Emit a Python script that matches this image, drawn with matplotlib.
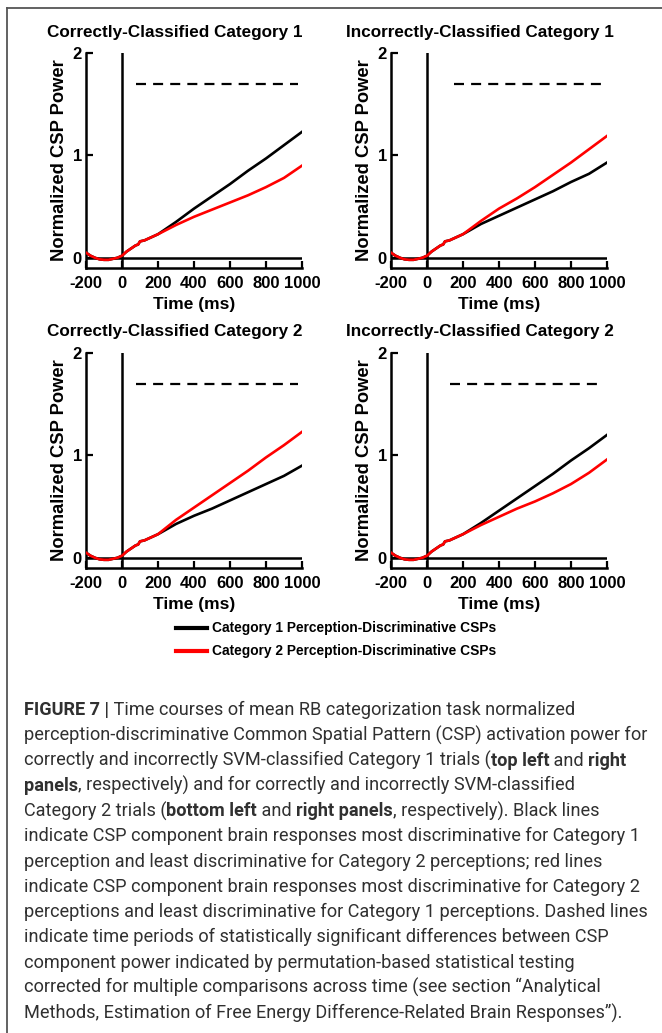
import matplotlib
matplotlib.use("Agg")
import matplotlib.pyplot as plt
from matplotlib.lines import Line2D
import numpy as np

# ---------------- data ----------------
time_ms = [-200, -175, -150, -125, -100, -75, -50, -25, 0, 25, 50, 75, 90, 100, 125, 150, 200,
           300, 400, 500, 600, 700, 800, 900, 1000]

panel_titles = ["Correctly-Classified Category 1", "Incorrectly-Classified Category 1",
                "Correctly-Classified Category 2", "Incorrectly-Classified Category 2"]

base = [0.05, 0.02, 0.00, -0.015, -0.02, -0.02, -0.01, 0.00, 0.02, 0.06, 0.09, 0.12, 0.13, 0.16, 0.17, 0.19, 0.23]

# Category 1 perception-discriminative CSPs (black)
cat1_correct1   = base + [0.35, 0.48, 0.60, 0.72, 0.85, 0.97, 1.10, 1.23]
cat1_incorrect1 = base + [0.33, 0.41, 0.49, 0.57, 0.65, 0.74, 0.82, 0.93]
cat1_correct2   = base + [0.33, 0.41, 0.48, 0.56, 0.64, 0.72, 0.80, 0.90]
cat1_incorrect2 = base + [0.34, 0.46, 0.58, 0.70, 0.82, 0.95, 1.07, 1.20]

# Category 2 perception-discriminative CSPs (red)
cat2_correct1   = base + [0.32, 0.40, 0.47, 0.54, 0.61, 0.69, 0.78, 0.90]
cat2_incorrect1 = base + [0.36, 0.48, 0.58, 0.69, 0.81, 0.93, 1.06, 1.19]
cat2_correct2   = base + [0.37, 0.49, 0.61, 0.73, 0.85, 0.98, 1.10, 1.23]
cat2_incorrect2 = base + [0.32, 0.40, 0.48, 0.55, 0.63, 0.72, 0.83, 0.96]

# significance (dashed) periods: start, end (ms) at level
sig_start = [80, 150, 80, 125]
sig_end = [980, 980, 980, 980]
sig_level = 1.7

x_ticks = [-200, 0, 200, 400, 600, 800, 1000]
y_ticks = [0, 1, 2]

legend_labels = ["Category 1 Perception-Discriminative CSPs",
                 "Category 2 Perception-Discriminative CSPs"]

black_series = [cat1_correct1, cat1_incorrect1, cat1_correct2, cat1_incorrect2]
red_series = [cat2_correct1, cat2_incorrect1, cat2_correct2, cat2_incorrect2]

# ---------------- figure ----------------
W, H = 662, 1033
plt.rcParams['font.family'] = ['Liberation Sans', 'DejaVu Sans']
plt.rcParams['axes.unicode_minus'] = False
fig = plt.figure(figsize=(W / 100, H / 100), dpi=100)

def fx(px):
    return px / W

def fy(py):
    return 1 - py / H

# frame lines
fig.add_artist(Line2D([fx(7), 1.0], [fy(8), fy(8)], color='#555555', lw=1.3, transform=fig.transFigure))
fig.add_artist(Line2D([fx(7), fx(7)], [fy(8), 0.0], color='#555555', lw=1.3, transform=fig.transFigure))

ax_left = [86, 391, 86, 391]
ax_top = [53, 53, 353, 353]
title_cx = [175, 480, 175, 480]
title_cy = [33, 33, 331, 331]
ax_w, ax_h = 216, 215

for i in range(4):
    ax = fig.add_axes([fx(ax_left[i]), fy(ax_top[i] + ax_h), ax_w / W, ax_h / H])
    ax.set_xlim(-200, 1000)
    ax.set_ylim(-0.1, 2)
    for s in ['top', 'right']:
        ax.spines[s].set_visible(False)
    for s in ['left', 'bottom']:
        ax.spines[s].set_linewidth(1.8)
    ax.axhline(0, color='black', lw=1.8, zorder=1)
    ax.axvline(0, color='black', lw=1.8, zorder=1)
    ax.plot(time_ms, black_series[i], color='black', lw=1.9, zorder=3)
    ax.plot(time_ms, red_series[i], color='#ff0000', lw=1.9, zorder=4)
    ax.plot([sig_start[i], sig_end[i]], [sig_level, sig_level], color='black', lw=1.6,
            dashes=(4.5, 3.2), zorder=2)
    ax.set_xticks(x_ticks)
    ax.set_yticks(y_ticks)
    ax.tick_params(axis='x', direction='in', length=5, width=1.6, labelsize=12, pad=6)
    ax.tick_params(axis='y', direction='in', length=5, width=1.6, labelsize=12, pad=3)
    for lab in ax.get_xticklabels() + ax.get_yticklabels():
        lab.set_fontweight('bold')
    ax.set_xlabel('Time (ms)', fontsize=12.5, fontweight='bold', labelpad=4)
    ax.set_ylabel('Normalized CSP Power', fontsize=13.2, fontweight='bold', labelpad=3)
    fig.text(fx(title_cx[i]), fy(title_cy[i]), panel_titles[i], fontsize=12.3, fontweight='bold',
             ha='center', va='center')

# legend (drawn manually in figure coordinates)
leg_y = [628, 651]
leg_col = ['black', '#ff0000']
for j in range(2):
    fig.add_artist(Line2D([fx(176), fx(207)], [fy(leg_y[j]), fy(leg_y[j])], color=leg_col[j], lw=3,
                          transform=fig.transFigure))
    fig.text(fx(212), fy(leg_y[j]), legend_labels[j], fontsize=9.9, fontweight='bold',
             va='center', ha='left')

# caption with mixed bold
caption = [
    [("FIGURE 7 |", True), (" Time courses of mean RB categorization task normalized", False)],
    [("perception-discriminative Common Spatial Pattern (CSP) activation power for", False)],
    [("correctly and incorrectly SVM-classified Category 1 trials (", False), ("top left", True),
     (" and ", False), ("right", True)],
    [("panels", True), (", respectively) and for correctly and incorrectly SVM-classified", False)],
    [("Category 2 trials (", False), ("bottom left", True), (" and ", False), ("right panels", True),
     (", respectively). Black lines", False)],
    [("indicate CSP component brain responses most discriminative for Category 1", False)],
    [("perception and least discriminative for Category 2 perceptions; red lines", False)],
    [("indicate CSP component brain responses most discriminative for Category 2", False)],
    [("perceptions and least discriminative for Category 1 perceptions. Dashed lines", False)],
    [("indicate time periods of statistically significant differences between CSP", False)],
    [("component power indicated by permutation-based statistical testing", False)],
    [("corrected for multiple comparisons across time (see section \u201cAnalytical", False)],
    [("Methods, Estimation of Free Energy Difference-Related Brain Responses\u201d).", False)],
]

renderer = fig.canvas.get_renderer()
cap_color = '#303030'
cap_family = ['Roboto', 'Liberation Sans', 'DejaVu Sans']
cap_size = 11.6
probe = fig.text(0, 0, caption[1][0][0], fontsize=cap_size, family=cap_family, fontweight='normal')
wpx = probe.get_window_extent(renderer).width
probe.remove()
target = 626
cap_size = cap_size * target / wpx

y0 = 710
dy = 25.25
for k, line in enumerate(caption):
    xpix = 24
    for txt, bold in line:
        t = fig.text(fx(xpix), fy(y0 + k * dy), txt, fontsize=cap_size, family=cap_family,
                     fontweight='bold' if bold else 'normal', color=cap_color,
                     va='center', ha='left')
        xpix += t.get_window_extent(renderer).width

fig.savefig('out.png', dpi=100)
